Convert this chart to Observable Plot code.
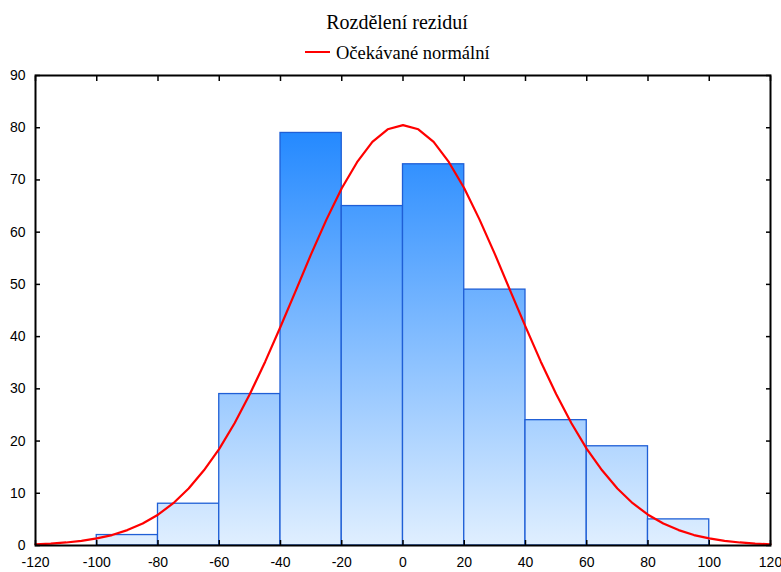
<!DOCTYPE html>
<html><head><meta charset="utf-8">
<script src="https://cdn.jsdelivr.net/npm/d3@7"></script>
<script src="https://cdn.jsdelivr.net/npm/@observablehq/plot@0.6"></script>
<style>
body{margin:0;background:#fff;}
#wrap{position:relative;width:781px;height:572px;overflow:hidden;}
#title{position:absolute;left:0;width:794px;top:10px;text-align:center;font-family:"Liberation Serif";font-size:20px;color:#000;line-height:24px;}
#legend{position:absolute;left:305px;top:42px;font-family:"Liberation Serif";font-size:18.5px;color:#000;line-height:22px;white-space:nowrap;}
#legend .sw{display:inline-block;width:25px;height:2px;background:#ff0000;vertical-align:middle;margin-right:6px;position:relative;top:-3px;}
#chart{position:absolute;left:0;top:0;}
</style>
</head><body>
<div id="wrap">
<div id="chart"></div>
<div id="title">Rozdělení reziduí</div>
<div id="legend"><span class="sw"></span>Očekávané normální</div>
</div>
<script>
const binStart = [-100, -80, -60, -40, -20, 0, 20, 40, 60, 80];
const binEnd   = [-80, -60, -40, -20, 0, 20, 40, 60, 80, 100];
const counts   = [2, 8, 29, 79, 65, 73, 49, 24, 19, 5];
const curveX = [-120,-115,-110,-105,-100,-95,-90,-85,-80,-75,-70,-65,-60,-55,-50,-45,-40,-35,-30,-25,-20,-15,-10,-5,0,5,10,15,20,25,30,35,40,45,50,55,60,65,70,75,80,85,90,95,100,105,110,115,120];
const curveY = [0.23,0.36,0.58,0.89,1.36,2.0,2.95,4.2,5.9,8.1,10.9,14.4,18.5,23.4,29.0,35.2,41.9,48.8,55.8,62.4,68.4,73.4,77.3,79.7,80.5,79.7,77.3,73.4,68.4,62.4,55.8,48.8,41.9,35.2,29.0,23.4,18.5,14.4,10.9,8.1,5.9,4.2,2.95,2.0,1.36,0.89,0.58,0.36,0.23];
const xTicks = [-120,-100,-80,-60,-40,-20,0,20,40,60,80,100,120];
const yTicks = [0,10,20,30,40,50,60,70,80,90];

const bars = counts.map((c,i)=>({x1:binStart[i], x2:binEnd[i], y:c}));
const curve = curveX.map((x,i)=>({x, y:curveY[i]}));

const plot = Plot.plot({
  width: 781,
  height: 572,
  marginTop: 75,
  marginBottom: 27,
  marginLeft: 35,
  marginRight: 11,
  style: {fontFamily: "Liberation Sans", fontSize: "14px", color: "#000", background: "transparent"},
  x: {domain: [-120, 120], label: null},
  y: {domain: [0, 90], label: null},
  marks: [
    Plot.rectY(bars, {x1: "x1", x2: "x2", y: "y", fill: "url(#barGrad)", stroke: "#1f5fd6", strokeWidth: 1.3}),
    Plot.line(curve, {x: "x", y: "y", stroke: "#ff0000", strokeWidth: 2.2}),
    Plot.frame({stroke: "#000", strokeWidth: 2}),
    Plot.axisX({anchor: "bottom", ticks: xTicks, tickSize: -5, tickPadding: 17, tickFormat: d => String(d), stroke: "#000", strokeWidth: 1.5, fill: "#000"}),
    Plot.axisX({anchor: "top", ticks: xTicks, tickSize: -5, tickFormat: () => "", stroke: "#000", strokeWidth: 1.5}),
    Plot.axisY({anchor: "left", ticks: yTicks, tickSize: -5, tickPadding: 15, tickFormat: d => String(d), stroke: "#000", strokeWidth: 1.5, fill: "#000"}),
    Plot.axisY({anchor: "right", ticks: yTicks, tickSize: -5, tickFormat: () => "", stroke: "#000", strokeWidth: 1.5})
  ]
});

const ys = plot.scale("y");
const defs = document.createElementNS("http://www.w3.org/2000/svg", "defs");
defs.innerHTML = `<linearGradient id="barGrad" gradientUnits="userSpaceOnUse" x1="0" x2="0" y1="${ys.apply(80)}" y2="${ys.apply(0)}"><stop offset="0" stop-color="#2288ff"/><stop offset="1" stop-color="#e0efff"/></linearGradient>`;
plot.insertBefore(defs, plot.firstChild);
document.getElementById("chart").appendChild(plot);
</script>
</body></html>
